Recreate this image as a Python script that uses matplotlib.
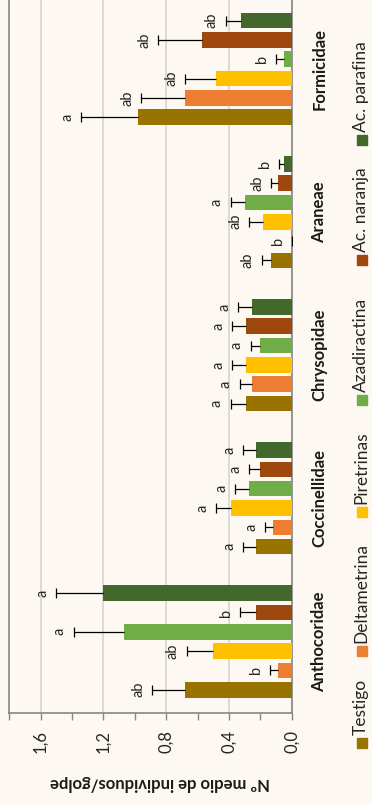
import numpy as np
import matplotlib.pyplot as plt
from matplotlib.patches import Rectangle

plt.rcParams['font.family'] = ['Lato', 'DejaVu Sans']

families = ["Anthocoridae", "Coccinellidae", "Chrysopidae", "Araneae", "Formicidae"]
treatments = ["Testigo", "Deltametrina", "Piretrinas", "Azadiractina", "Ac. naranja", "Ac. parafina"]
colors = ["#997300", "#ED7D31", "#FFC000", "#70AD47", "#9E480E", "#43682B"]

# mean individuals per beat, one value per family
testigo = [0.68, 0.23, 0.29, 0.13, 0.98]
deltametrina = [0.09, 0.12, 0.25, 0.00, 0.68]
piretrinas = [0.50, 0.39, 0.29, 0.18, 0.48]
azadiractina = [1.07, 0.27, 0.20, 0.30, 0.05]
naranja = [0.23, 0.20, 0.29, 0.09, 0.57]
parafina = [1.20, 0.23, 0.25, 0.05, 0.32]

# standard errors
testigo_se = [0.21, 0.08, 0.10, 0.06, 0.36]
deltametrina_se = [0.05, 0.05, 0.08, 0.00, 0.28]
piretrinas_se = [0.17, 0.09, 0.09, 0.09, 0.20]
azadiractina_se = [0.32, 0.09, 0.06, 0.09, 0.05]
naranja_se = [0.10, 0.07, 0.09, 0.04, 0.28]
parafina_se = [0.30, 0.08, 0.09, 0.03, 0.10]

# significance letters
testigo_lt = ["ab", "a", "a", "ab", "a"]
deltametrina_lt = ["b", "a", "a", "b", "ab"]
piretrinas_lt = ["ab", "a", "a", "ab", "ab"]
azadiractina_lt = ["a", "a", "a", "a", "b"]
naranja_lt = ["b", "a", "a", "ab", "ab"]
parafina_lt = ["a", "a", "a", "b", "ab"]

means = [testigo, deltametrina, piretrinas, azadiractina, naranja, parafina]
errors = [testigo_se, deltametrina_se, piretrinas_se, azadiractina_se, naranja_se, parafina_se]
letters = [testigo_lt, deltametrina_lt, piretrinas_lt, azadiractina_lt, naranja_lt, parafina_lt]

value_ticks = [0.0, 0.4, 0.8, 1.2, 1.6]

bg = "#FDF9F2"
axis_grey = "#868686"
W, H = 372, 805

fig = plt.figure(figsize=(W / 100, H / 100), dpi=100, facecolor=bg)
# chart is laid out sideways: values grow to the left, families go upward
ax = fig.add_axes([9.3 / W, (H - 713) / H, 282.4 / W, 715.6 / H])
ax.set_facecolor(bg)

slot = 0.135
bar_h = 0.109
pos = np.arange(len(families))

for i, name in enumerate(treatments):
    y = pos + (i - 2.5) * slot
    m = np.array(means[i])
    e = np.array(errors[i])
    ax.barh(y, m, height=bar_h, color=colors[i], zorder=3)
    eb = ax.errorbar(m, y, xerr=[np.zeros_like(e), e], fmt='none', ecolor='black',
                     elinewidth=0.9, capsize=3.3, capthick=0.9, zorder=4)
    eb[1][0].remove()  # only the outer cap
    for xv, yv, lab in zip(m + e, y, letters[i]):
        ax.annotate(lab, (xv, yv), xytext=(-7, 0), textcoords='offset pixels',
                    rotation=90, ha='right', va='center', fontsize=10.5, color='#262626')

ax.set_xlim(1.8, 0)
ax.set_ylim(-0.5, 4.5)

ax.set_xticks(value_ticks)
ax.set_xticklabels([f"{v:.1f}".replace(".", ",") for v in value_ticks])
ax.set_xticks(np.arange(0, 1.81, 0.2), minor=True)
ax.tick_params(axis='x', which='both', direction='out', length=5, width=1,
               color=axis_grey, labelrotation=90, labelsize=12, pad=7,
               labelcolor='#262626')

ax.yaxis.tick_right()
ax.set_yticks(pos)
ax.set_yticklabels(families, rotation=90, fontweight='bold', fontsize=12,
                   va='center', color='#1a1a1a')
ax.tick_params(axis='y', length=0, pad=14)

ax.grid(axis='x', which='major', color='#DAD6D1', lw=1.3, zorder=0)
ax.set_axisbelow(True)
for side in ['left', 'bottom', 'right']:
    ax.spines[side].set_color(axis_grey)
    ax.spines[side].set_linewidth(1.2)
ax.spines['top'].set_visible(False)

fig.text(159.5 / W, 1 - 783 / H, "Nº medio de individuos/golpe", rotation=180,
         ha='center', va='center', fontweight='bold', fontsize=12, color='#1a1a1a')

# legend, one entry per treatment, reading upward
marker_y = [743, 651, 512, 400, 260, 140]
for name, col, yc in zip(treatments, colors, marker_y):
    fig.patches.append(Rectangle((357 / W, 1 - (yc + 5) / H), 10 / W, 10 / H,
                                 transform=fig.transFigure, color=col))
    fig.text(353 / W, 1 - (yc - 8) / H, name, rotation=90, ha='left', va='bottom',
             fontsize=12.5, color='#262626')

fig.savefig("out.png", dpi=100, facecolor=bg)
